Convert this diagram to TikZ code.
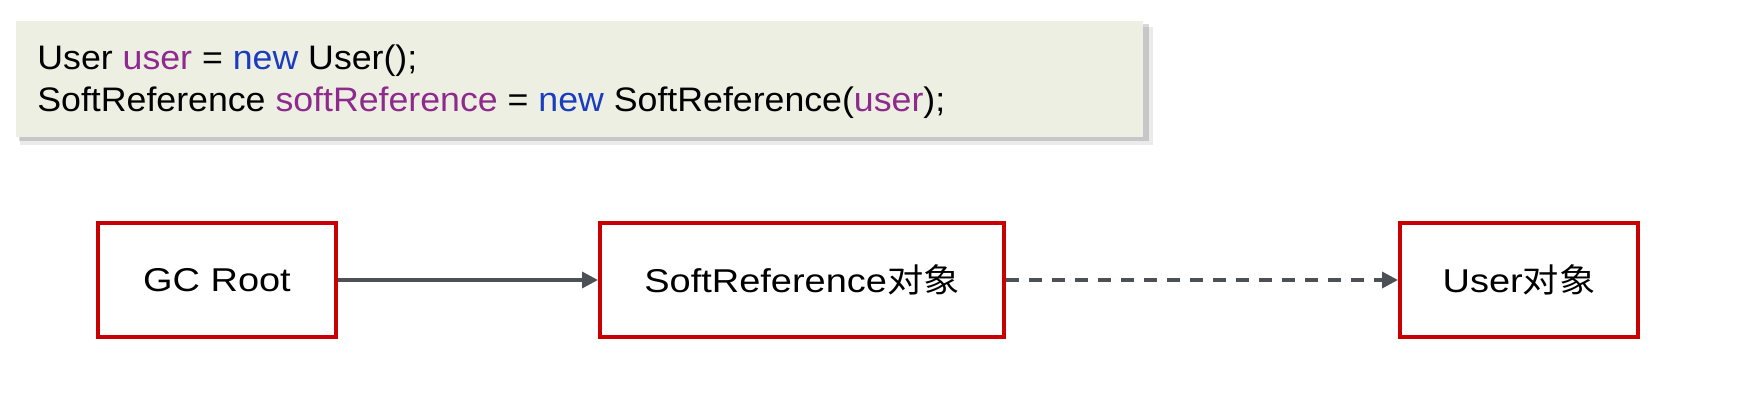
\documentclass[tikz,border=0pt]{standalone}
\usepackage{fontspec}
\setmainfont{Liberation Sans}[FakeStretch=1.05]
\newfontfamily\boxfont{Liberation Sans}[FakeStretch=1.15]
\newfontfamily\cjk{Noto Sans CJK SC}[FakeStretch=1.1]
\usetikzlibrary{arrows.meta}
\definecolor{boxred}{HTML}{C80000}
\definecolor{codebg}{HTML}{EDEFE2}
\definecolor{kwpurple}{HTML}{8E2A8E}
\definecolor{kwblue}{HTML}{1A3CBE}
\definecolor{conncol}{HTML}{4D5156}
\tikzset{
  objbox/.style={draw=boxred, line width=2pt, fill=white, minimum height=57pt, inner sep=0pt, font=\boxfont\fontsize{16.5}{20}\selectfont},
  codeline/.style={anchor=base west, inner sep=0pt, font=\fontsize{17}{20}\selectfont},
  conn/.style={draw=conncol, line width=1.7pt, -{Triangle[length=8pt,width=8pt]}},
  dashconn/.style={conn, dash pattern=on 6.5pt off 5pt}
}
\begin{document}
\begin{tikzpicture}[x=0.5pt,y=-0.5pt]
\useasboundingbox (0,0) rectangle (1739,407);
\fill[white] (0,0) rectangle (1739,407);
% code box with shadow
\fill[black, opacity=0.08] (20,27) rectangle (1153,145);
\fill[black, opacity=0.15] (19,24) rectangle (1149,141);
\fill[codebg] (16,21) rectangle (1143,137);
\node[codeline] (c1) at (37,69) {User \textcolor{kwpurple}{user} = \textcolor{kwblue}{new} User();};
\node[codeline] (c2) at (37,111) {SoftReference \textcolor{kwpurple}{softReference} = \textcolor{kwblue}{new} SoftReference(\textcolor{kwpurple}{user});};
% object boxes
\node[objbox, minimum width=119pt] (gc) at (217,280) {\raisebox{-1.5pt}{GC Root}};
\node[objbox, minimum width=202pt] (soft) at (802,280) {\raisebox{-1.5pt}{SoftReference{\cjk 对象}}};
\node[objbox, minimum width=119pt] (user) at (1519,280) {\raisebox{-1.5pt}{User{\cjk 对象}}};
% connectors
\draw[conn] (gc) -- (soft);
\draw[dashconn] (soft) -- (user);
\end{tikzpicture}
\end{document}
